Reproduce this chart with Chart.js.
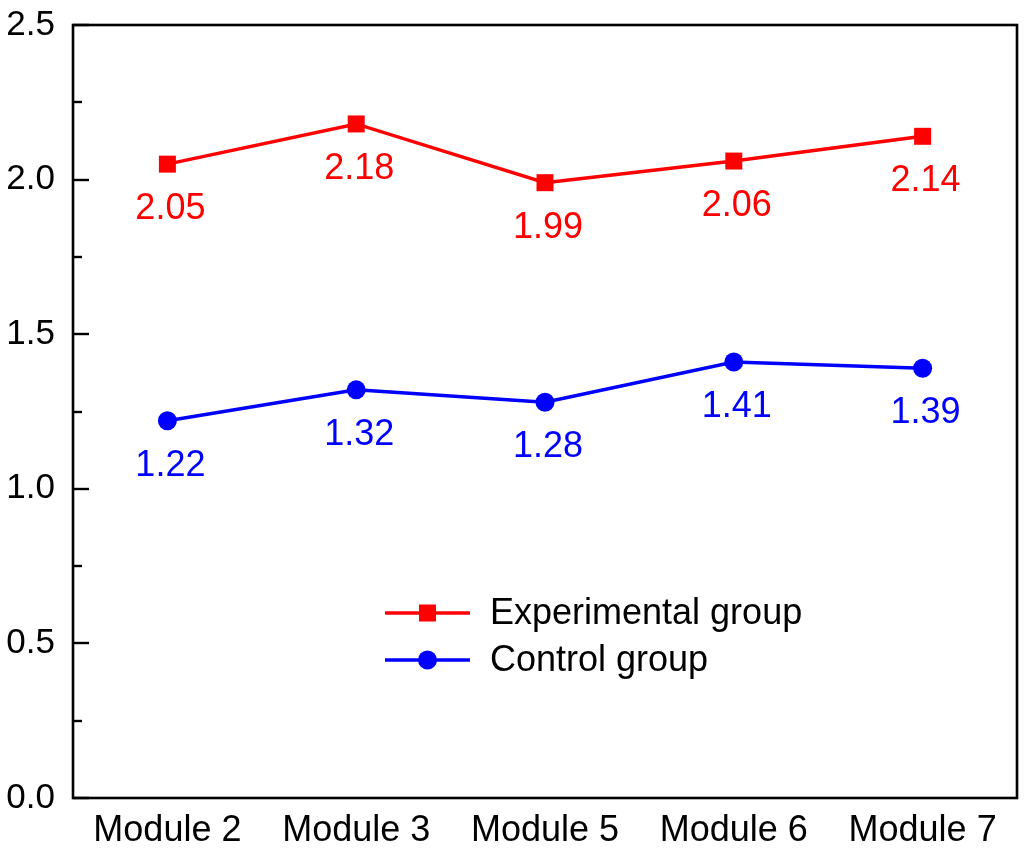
<!DOCTYPE html>
<html>
<head>
<meta charset="utf-8">
<script src="https://cdn.jsdelivr.net/npm/chart.js@4.4.1/dist/chart.umd.min.js"></script>
<style>
  html, body { margin: 0; padding: 0; background: #fff; overflow: hidden; }
  #wrap { width: 1024px; height: 854px; position: relative; }
</style>
</head>
<body>
<div id="wrap"><canvas id="myChart"></canvas></div>
<script>
// data
const modules = ['Module 2', 'Module 3', 'Module 5', 'Module 6', 'Module 7'];
const experimental = [2.05, 2.18, 1.99, 2.06, 2.14];
const control = [1.22, 1.32, 1.28, 1.41, 1.39];
const yTicks = [0.0, 0.5, 1.0, 1.5, 2.0, 2.5];

const FONT = 'Arial, "Liberation Sans", sans-serif';

// box round the plot + inward ticks on the left axis
const frame = {
    id: 'frame',
    afterDraw(chart) {
        const ctx = chart.ctx;
        const a = chart.chartArea;
        const y = chart.scales.y;
        ctx.save();
        ctx.strokeStyle = '#000';
        ctx.lineWidth = 2.6;
        ctx.strokeRect(a.left, a.top, a.right - a.left, a.bottom - a.top);
        ctx.lineWidth = 2.4;
        for (let v = 0; v <= 2.5001; v += 0.25) {
            const major = Math.abs(v * 2 - Math.round(v * 2)) < 1e-6;
            const py = Math.round(y.getPixelForValue(v));
            ctx.beginPath();
            ctx.moveTo(a.left, py);
            ctx.lineTo(a.left + (major ? 16 : 9), py);
            ctx.stroke();
        }
        ctx.restore();
    }
};

// value labels under each point
const valueLabels = {
    id: 'valueLabels',
    afterDatasetsDraw(chart) {
        const ctx = chart.ctx;
        ctx.save();
        ctx.font = '36px ' + FONT;
        ctx.textAlign = 'center';
        ctx.textBaseline = 'middle';
        chart.data.datasets.forEach((ds, i) => {
            const meta = chart.getDatasetMeta(i);
            ctx.fillStyle = ds.borderColor;
            meta.data.forEach((pt, j) => {
                ctx.fillText(ds.data[j].toFixed(2), pt.x + 3, pt.y + 45);
            });
        });
        ctx.restore();
    }
};

// legend inside the plot
const insideLegend = {
    id: 'insideLegend',
    afterDraw(chart) {
        const ctx = chart.ctx;
        const a = chart.chartArea;
        const x0 = a.left + 312, x1 = a.left + 397, xm = (x0 + x1) / 2;
        const rows = [a.top + 588, a.top + 635];
        ctx.save();
        ctx.font = '36px ' + FONT;
        ctx.textBaseline = 'middle';
        chart.data.datasets.forEach((ds, i) => {
            const yy = rows[i];
            ctx.strokeStyle = ds.borderColor;
            ctx.fillStyle = ds.borderColor;
            ctx.lineWidth = 3.5;
            ctx.beginPath();
            ctx.moveTo(x0, yy);
            ctx.lineTo(x1, yy);
            ctx.stroke();
            if (ds.pointStyle === 'rect') {
                ctx.fillRect(xm - 8.5, yy - 8.5, 17, 17);
            } else {
                ctx.beginPath();
                ctx.arc(xm, yy, 9.5, 0, Math.PI * 2);
                ctx.fill();
            }
            ctx.fillStyle = '#000';
            ctx.fillText(ds.label, x1 + 20, yy + 1);
        });
        ctx.restore();
    }
};

const ctx = document.getElementById('myChart');
const myChart = new Chart(ctx, {
    type: 'line',
    data: {
        labels: modules,
        datasets: [{
            label: 'Experimental group',
            data: experimental,
            borderColor: '#FF0000',
            backgroundColor: '#FF0000',
            borderWidth: 3.5,
            pointStyle: 'rect',
            pointRadius: 12,
            pointHoverRadius: 12,
            pointBorderWidth: 0,
            tension: 0
        },
        {
            label: 'Control group',
            data: control,
            borderColor: '#0000FF',
            backgroundColor: '#0000FF',
            borderWidth: 3.5,
            pointStyle: 'circle',
            pointRadius: 9.5,
            pointHoverRadius: 9.5,
            pointBorderWidth: 0,
            tension: 0
        }]
    },
    options: {
        responsive: true,
        maintainAspectRatio: false,
        animation: false,
        layout: {
            autoPadding: false,
            padding: { top: 25, right: 7, left: 0, bottom: 0 }
        },
        plugins: {
            legend: { display: false },
            tooltip: { enabled: false }
        },
        scales: {
            x: {
                offset: true,
                grid: { display: false, drawTicks: false },
                border: { display: false },
                ticks: {
                    color: '#000',
                    font: { family: FONT, size: 36 },
                    padding: 11,
                    maxRotation: 0
                },
                afterFit(scale) {
                    scale.height = 56;
                    scale.paddingLeft = 0;
                    scale.paddingRight = 0;
                }
            },
            y: {
                min: 0,
                max: 2.5,
                grid: { display: false, drawTicks: false },
                border: { display: false },
                afterBuildTicks(scale) {
                    scale.ticks = yTicks.map(v => ({ value: v }));
                },
                ticks: {
                    color: '#000',
                    font: { family: FONT, size: 35 },
                    padding: 18,
                    callback: v => Number(v).toFixed(1)
                },
                afterFit(scale) {
                    scale.width = 73;
                    scale.paddingTop = 0;
                    scale.paddingBottom = 0;
                }
            }
        }
    },
    plugins: [frame, valueLabels, insideLegend]
});
</script>
</body>
</html>
